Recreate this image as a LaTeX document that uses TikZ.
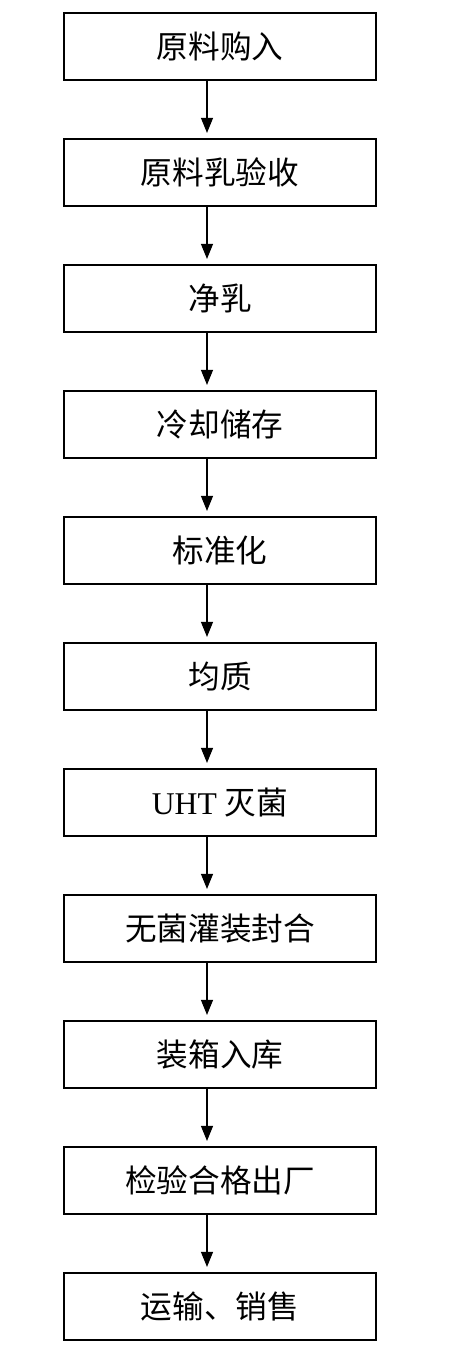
\documentclass[tikz,border=0pt]{standalone}
\usepackage{fontspec}
\setmainfont{Liberation Serif}
\newfontfamily\cjk{Noto Sans CJK SC}
\usetikzlibrary{positioning,arrows.meta}

\begin{document}
\begin{tikzpicture}[
	every node/.style={font=\fontsize{18}{20}\selectfont},
	box/.style={draw, line width=1pt, minimum width=6.24cm, minimum height=1.34cm, align=center, inner sep=0pt},
	arrow/.style={-{Triangle[length=3mm, width=2.4mm]}, line width=0.6pt, shorten >=0.1cm}
	]
	
	\useasboundingbox (0,0) rectangle (9.02,-27.3);
	
	\node[box] (buy) at (4.4,-0.926) {\cjk 原料购入};
	\node[box] (check) at (4.4,-3.446) {\cjk 原料乳验收};
	\node[box] (clean) at (4.4,-5.966) {\cjk 净乳};
	\node[box] (cool) at (4.4,-8.486) {\cjk 冷却储存};
	\node[box] (std) at (4.4,-11.006) {\cjk 标准化};
	\node[box] (homo) at (4.4,-13.526) {\cjk 均质};
	\node[box] (uht) at (4.4,-16.046) {UHT {\cjk 灭菌}};
	\node[box] (fill) at (4.4,-18.566) {\cjk 无菌灌装封合};
	\node[box] (pack) at (4.4,-21.086) {\cjk 装箱入库};
	\node[box] (test) at (4.4,-23.606) {\cjk 检验合格出厂};
	\node[box] (sell) at (4.4,-26.126) {\cjk 运输、销售};
	
	\draw[arrow] ([xshift=-0.26cm]buy.south) -- ([xshift=-0.26cm]check.north);
	\draw[arrow] ([xshift=-0.26cm]check.south) -- ([xshift=-0.26cm]clean.north);
	\draw[arrow] ([xshift=-0.26cm]clean.south) -- ([xshift=-0.26cm]cool.north);
	\draw[arrow] ([xshift=-0.26cm]cool.south) -- ([xshift=-0.26cm]std.north);
	\draw[arrow] ([xshift=-0.26cm]std.south) -- ([xshift=-0.26cm]homo.north);
	\draw[arrow] ([xshift=-0.26cm]homo.south) -- ([xshift=-0.26cm]uht.north);
	\draw[arrow] ([xshift=-0.26cm]uht.south) -- ([xshift=-0.26cm]fill.north);
	\draw[arrow] ([xshift=-0.26cm]fill.south) -- ([xshift=-0.26cm]pack.north);
	\draw[arrow] ([xshift=-0.26cm]pack.south) -- ([xshift=-0.26cm]test.north);
	\draw[arrow] ([xshift=-0.26cm]test.south) -- ([xshift=-0.26cm]sell.north);
	
\end{tikzpicture}
\end{document}
